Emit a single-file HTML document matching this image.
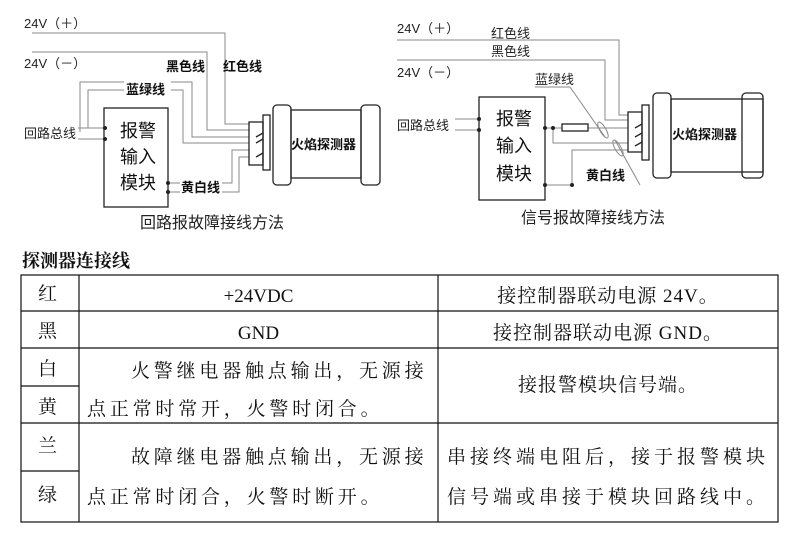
<!DOCTYPE html>
<html><head><meta charset="utf-8"><style>
body{margin:0;background:#fff;width:795px;height:533px;overflow:hidden;position:relative;font-family:"Liberation Sans","Noto Sans CJK SC",sans-serif;}
svg{position:absolute;left:0;top:0}
.t{position:absolute;font-family:"Liberation Serif","Noto Serif CJK SC",serif;font-size:19px;color:#111;white-space:nowrap;line-height:24px}
.c{text-align:center}
</style></head><body>
<svg width="795" height="533" viewBox="0 0 795 533" font-family="Liberation Sans, Noto Sans CJK SC, sans-serif">
<g stroke="#888" stroke-width="1" fill="none">
<polyline points="32,33 225,33 225,124 249,124"/>
<polyline points="32,52 207,52 207,130 249,130"/>
<polyline points="80,132 80,82 124,82"/>
<polyline points="88,128 88,90 124,90"/>
<polyline points="171,82 192,82 192,137 249,137"/>
<polyline points="171,90 183,90 183,143 249,143"/>
<polyline points="78,128 105,128"/><polyline points="78,139 105,139"/>
<polyline points="168,183 180,183"/><polyline points="168,192 180,192"/>
<polyline points="222,183 232,183 232,150 249,150"/>
<polyline points="222,192 239,192 239,157 249,157"/>
<polyline points="397,40 619,40 619,115 628,115"/>
<polyline points="397,60 605,60 605,120 628,120"/>
<polyline points="455,119 479,119"/><polyline points="455,130 479,130"/>
<polyline points="545,128 562,128"/><polyline points="588,128 628,128"/>
<polyline points="553,128 553,143 628,143"/>
<polyline points="545,185 572,185 572,150 628,150"/>
<line x1="570" y1="87" x2="605" y2="137"/>
<ellipse cx="603" cy="130" rx="3" ry="9" transform="rotate(-30 603 130)"/>
<line x1="615" y1="140" x2="640" y2="185"/>
<ellipse cx="618" cy="148" rx="3" ry="9" transform="rotate(-30 618 148)"/>
<line x1="535" y1="87" x2="570" y2="87"/>
</g>
<g stroke="#222" stroke-width="1.3" fill="none">
<rect x="104" y="108" width="64" height="99"/>
<rect x="479" y="97" width="66" height="103"/>
<rect x="562" y="124" width="26" height="7"/>
<rect x="249" y="122" width="14" height="43"/>
<rect x="263" y="115" width="7" height="55"/>
<rect x="273" y="105" width="18" height="80" rx="4"/>
<rect x="291" y="110" width="70" height="68"/>
<rect x="361" y="105" width="19" height="80" rx="4"/>
<line x1="256" y1="137" x2="263" y2="133"/><line x1="256" y1="143" x2="263" y2="139"/><line x1="256" y1="157" x2="263" y2="153"/>
<rect x="628" y="112" width="14" height="40"/>
<rect x="642" y="105" width="7" height="55"/>
<rect x="653" y="93" width="18" height="85" rx="4"/>
<rect x="671" y="99" width="92" height="73"/>
<rect x="742" y="93" width="21" height="85" rx="4"/>
<line x1="635" y1="128" x2="642" y2="124"/><line x1="635" y1="137" x2="642" y2="133"/><line x1="635" y1="146" x2="642" y2="142"/>
</g>
<g fill="#222"><circle cx="105" cy="128" r="2"/><circle cx="105" cy="139" r="2"/><circle cx="168" cy="183" r="2"/><circle cx="168" cy="192" r="2"/>
<circle cx="479" cy="119" r="2"/><circle cx="479" cy="130" r="2"/><circle cx="545" cy="128" r="2"/><circle cx="553" cy="128" r="2"/><circle cx="545" cy="185" r="2"/><circle cx="572" cy="185" r="2"/></g>
<g font-size="13" fill="#222">
<text x="24" y="28">24V（＋）</text><text x="24" y="68">24V（－）</text>
<text x="24" y="138">回路总线</text>
<text x="397" y="33">24V（＋）</text><text x="397" y="77">24V（－）</text>
<text x="397" y="130">回路总线</text>
<text x="491" y="38">红色线</text><text x="491" y="56">黑色线</text>
<text x="535" y="84">蓝绿线</text>
</g>
<g font-size="13" font-weight="bold" fill="#111">
<text x="166" y="71">黑色线</text><text x="223" y="71">红色线</text>
<text x="126" y="94">蓝绿线</text><text x="181" y="192">黄白线</text>
<text x="586" y="180">黄白线</text>
<text x="291" y="149">火焰探测器</text><text x="672" y="139">火焰探测器</text>
</g>
<g font-size="18" fill="#111">
<text x="120" y="137">报警</text><text x="120" y="163">输入</text><text x="120" y="189">模块</text>
<text x="496" y="125">报警</text><text x="496" y="152">输入</text><text x="496" y="180">模块</text>
</g>
<g font-size="16" fill="#222">
<text x="140" y="228">回路报故障接线方法</text><text x="521" y="223">信号报故障接线方法</text>
</g>
<text x="22" y="267" font-size="18" font-weight="bold" fill="#111" font-family="Liberation Serif, Noto Serif CJK SC, serif">探测器连接线</text>
<g stroke="#111" stroke-width="1.2" fill="none">
<rect x="21" y="275" width="757" height="247"/>
<line x1="79" y1="275" x2="79" y2="522"/><line x1="438" y1="275" x2="438" y2="522"/>
<line x1="21" y1="311" x2="778" y2="311"/><line x1="21" y1="348" x2="778" y2="348"/><line x1="21" y1="423" x2="778" y2="423"/>
<line x1="21" y1="386" x2="79" y2="386"/><line x1="21" y1="471" x2="79" y2="471"/>
</g>
</svg>
<div class="t" style="left:38px;top:283px">红</div>
<div class="t" style="left:38px;top:320px">黑</div>
<div class="t" style="left:38px;top:358px">白</div>
<div class="t" style="left:38px;top:396px">黄</div>
<div class="t" style="left:38px;top:435px">兰</div>
<div class="t" style="left:38px;top:484px">绿</div>
<div class="t c" style="left:79px;width:359px;top:285px">+24VDC</div>
<div class="t c" style="left:79px;width:359px;top:322px">GND</div>
<div class="t" style="left:131px;top:360px;letter-spacing:3.8px">火警继电器触点输出，无源接</div>
<div class="t" style="left:87px;top:398px;letter-spacing:3.8px">点正常时常开，火警时闭合。</div>
<div class="t" style="left:131px;top:446px;letter-spacing:3.8px">故障继电器触点输出，无源接</div>
<div class="t" style="left:87px;top:486px;letter-spacing:3.8px">点正常时闭合，火警时断开。</div>
<div class="t c" style="left:438px;width:340px;top:285px;letter-spacing:1px">接控制器联动电源 24V。</div>
<div class="t c" style="left:438px;width:340px;top:322px;letter-spacing:1px">接控制器联动电源 GND。</div>
<div class="t c" style="left:438px;width:340px;top:374px;letter-spacing:1px">接报警模块信号端。</div>
<div class="t" style="left:447px;top:446px;letter-spacing:4px">串接终端电阻后，接于报警模块</div>
<div class="t" style="left:447px;top:486px;letter-spacing:4px">信号端或串接于模块回路线中。</div>
</body></html>
